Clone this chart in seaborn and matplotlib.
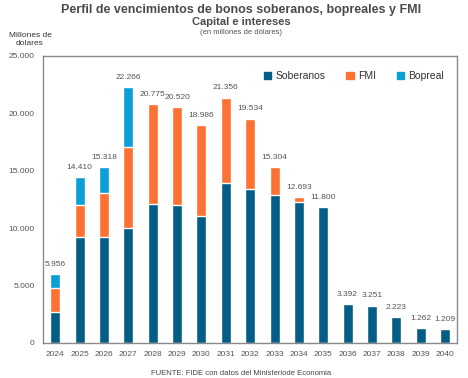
import matplotlib
matplotlib.use("Agg")
import matplotlib.pyplot as plt
import seaborn as sns
import pandas as pd
from matplotlib.ticker import FuncFormatter
from matplotlib.patches import Patch

years = [str(y) for y in range(2024, 2041)]
soberanos = [2660, 9220, 9180, 9970, 12110, 12030, 11010, 13970, 13440, 12900,
             12310, 11800, 3392, 3251, 2223, 1262, 1209]
fmi = [2120, 2830, 3860, 7130, 8665, 8490, 7976, 7386, 6094, 2404,
       383, 0, 0, 0, 0, 0, 0]
bopreal = [1176, 2360, 2278, 5166, 0, 0, 0, 0, 0, 0,
           0, 0, 0, 0, 0, 0, 0]
totals = [5956, 14410, 15318, 22266, 20775, 20520, 18986, 21356, 19534, 15304,
          12693, 11800, 3392, 3251, 2223, 1262, 1209]

C_SOB = "#045d84"
C_FMI = "#fd7133"
C_BOP = "#0b9fd6"

df = pd.DataFrame({"year": years, "sob": soberanos, "fmi": fmi, "bop": bopreal})
df["sob_fmi"] = df["sob"] + df["fmi"]
df["all"] = df["sob_fmi"] + df["bop"]

sns.set_theme(style="white")
plt.rcParams["font.family"] = ["Liberation Sans", "DejaVu Sans"]

fig = plt.figure(figsize=(4.68, 3.78), dpi=100)
ax = fig.add_axes([0.092, 0.093, 0.885, 0.759])

# stacked bars: draw cumulative totals back to front
sns.barplot(data=df, x="year", y="all", color=C_BOP, width=0.41, saturation=1, ax=ax)
sns.barplot(data=df, x="year", y="sob_fmi", color=C_FMI, width=0.41, saturation=1, ax=ax)
sns.barplot(data=df, x="year", y="sob", color=C_SOB, width=0.41, saturation=1, ax=ax)

fmt = lambda v: f"{int(v):,}".replace(",", ".")
for i, t in enumerate(totals):
    ax.text(i, t + 550, fmt(t), ha="center", va="bottom", fontsize=6, color="#555555")

ax.set_ylim(0, 25000)
ax.set_xlim(-0.5, len(years) - 0.5)
ax.set_yticks(range(0, 25001, 5000))
ax.yaxis.set_major_formatter(FuncFormatter(lambda v, p: fmt(v)))
ax.set_xlabel("")
ax.set_ylabel("")
ax.tick_params(axis="both", labelsize=6, colors="#555555", length=0, pad=6)
for s in ax.spines.values():
    s.set_color("#8a8a8a")
    s.set_linewidth(1.0)

handles = [Patch(color=C_SOB, label="Soberanos"),
           Patch(color=C_FMI, label="FMI"),
           Patch(color=C_BOP, label="Bopreal")]
leg = ax.legend(handles=handles, loc="upper right", ncol=3, frameon=False,
                fontsize=7.5, handlelength=0.7, handleheight=0.7,
                columnspacing=2.0, handletextpad=0.4, bbox_to_anchor=(0.99, 0.98))
for t in leg.get_texts():
    t.set_color("#333333")

fig.text(0.515, 0.974, "Perfil de vencimientos de bonos soberanos, bopreales y FMI",
         ha="center", va="center", fontsize=9, fontweight="bold", color="#4a4a4a")
fig.text(0.515, 0.942, "Capital e intereses", ha="center", va="center",
         fontsize=8, fontweight="bold", color="#4a4a4a")
fig.text(0.515, 0.913, "(en millones de dólares)", ha="center", va="center",
         fontsize=5.5, color="#555555")
fig.text(0.064, 0.895, "Millones de\ndolares", ha="center", va="center",
         fontsize=6, color="#333333", linespacing=1.3)
fig.text(0.515, 0.013, "FUENTE: FIDE con datos del Ministeriode Economia",
         ha="center", va="center", fontsize=5.5, color="#444444")

fig.savefig("out.png", dpi=100)
